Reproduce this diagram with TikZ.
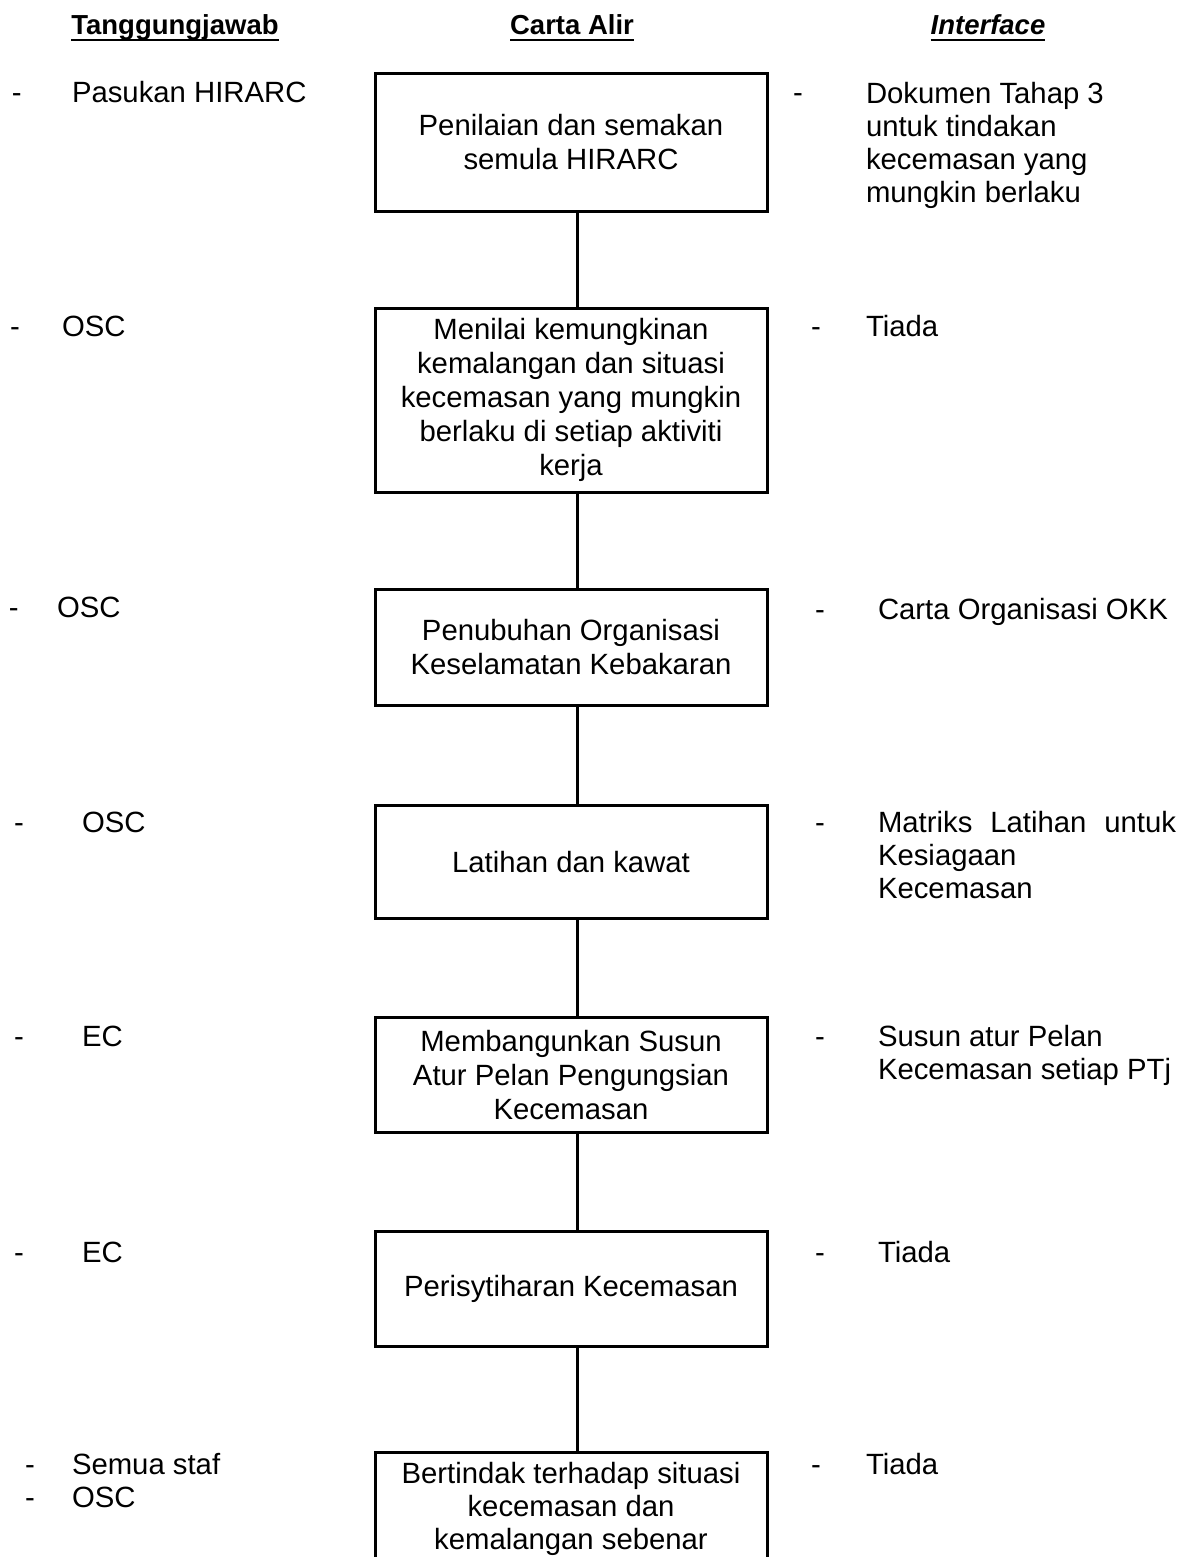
\documentclass[tikz,border=0pt]{standalone}
\usepackage{fontspec}
\setmainfont{Liberation Sans}
\begin{document}
\begin{tikzpicture}[x=1pt,y=-1pt,
  every node/.style={inner sep=0pt, outer sep=0pt, font=\fontsize{29.3}{33}\selectfont},
  head/.style={font=\fontsize{27.5}{32}\selectfont\bfseries, anchor=base},
  txt/.style={anchor=base west},
  flowbox/.style={draw, line width=3pt, minimum width=392pt, align=center, font=\fontsize{29.3}{34}\selectfont},
  link/.style={line width=3pt},
  uline/.style={line width=2.5pt}]
\useasboundingbox (0,0) rectangle (1189,1557);

% headings
\node[head] (h1) at (175,35) {Tanggungjawab};
\node[head] (h2) at (572,35) {Carta Alir};
\node[head] (h3) at (988,35) {\itshape Interface};
\foreach \h in {h1,h2,h3}
  \draw[uline] ([yshift=-5pt]\h.base west) -- ([yshift=-5pt]\h.base east);

% flow boxes
\node[flowbox, minimum height=137pt] (b1) at (571,142.5) {Penilaian dan semakan\\semula HIRARC};
\node[flowbox, minimum height=184pt] (b2) at (571,400) {Menilai kemungkinan\\kemalangan dan situasi\\kecemasan yang mungkin\\berlaku di setiap aktiviti\\kerja};
\node[flowbox, minimum height=116pt] (b3) at (571,647) {Penubuhan Organisasi\\Keselamatan Kebakaran};
\node[flowbox, minimum height=113pt] (b4) at (571,862) {Latihan dan kawat};
\node[flowbox, minimum height=115pt] (b5) at (571,1075) {Membangunkan Susun\\Atur Pelan Pengungsian\\Kecemasan};
\node[flowbox, minimum height=115pt] (b6) at (571,1289) {Perisytiharan Kecemasan};
\draw[line width=3pt] (375,1580) -- (375,1452) -- (767,1452) -- (767,1580);
\node[align=center, font=\fontsize{29.3}{33}\selectfont] (b7) at (571,1509) {Bertindak terhadap situasi\\kecemasan dan\\kemalangan sebenar};
\coordinate (b7top) at (577,1452);

% connectors
\draw[link] (b1.south -| b7top) -- (b2.north -| b7top);
\draw[link] (b2.south -| b7top) -- (b3.north -| b7top);
\draw[link] (b3.south -| b7top) -- (b4.north -| b7top);
\draw[link] (b4.south -| b7top) -- (b5.north -| b7top);
\draw[link] (b5.south -| b7top) -- (b6.north -| b7top);
\draw[link] (b6.south -| b7top) -- (b7top);

% left column
\node[txt] (l1d) at (12,103) {-};  \node[txt] (l1) at (72,103) {Pasukan HIRARC};
\node[txt] (l2d) at (10,336) {-};  \node[txt] (l2) at (62,336) {OSC};
\node[txt] (l3d) at (9,617) {-};   \node[txt] (l3) at (57,617) {OSC};
\node[txt] (l4d) at (14,832) {-};  \node[txt] (l4) at (82,832) {OSC};
\node[txt] (l5d) at (14,1046) {-}; \node[txt] (l5) at (82,1046) {EC};
\node[txt] (l6d) at (14,1262) {-}; \node[txt] (l6) at (82,1262) {EC};
\node[txt] (l7d) at (25,1474) {-}; \node[txt] (l7) at (72,1474) {Semua staf};
\node[txt] (l8d) at (25,1507) {-}; \node[txt] (l8) at (72,1507) {OSC};

% right column
\node[txt] (r1d) at (793,103) {-};
\node[txt, align=left, anchor=north west] (r1) at (866,82) {Dokumen Tahap 3\\untuk tindakan\\kecemasan yang\\mungkin berlaku};
\node[txt] (r2d) at (811,336) {-};  \node[txt] (r2) at (866,336) {Tiada};
\node[txt] (r3d) at (815,619) {-};  \node[txt] (r3) at (878,619) {Carta Organisasi OKK};
\node[txt] (r4d) at (815,832) {-};
\node[txt] (r4a) at (878,832) {\hbox to 298pt{Matriks\hfil\ Latihan\hfil\ untuk}};
\node[txt] (r4b) at (878,865) {Kesiagaan};
\node[txt] (r4c) at (878,898) {Kecemasan};
\node[txt] (r5d) at (815,1046) {-};
\node[txt] (r5a) at (878,1046) {Susun atur Pelan};
\node[txt] (r5b) at (878,1079) {Kecemasan setiap PTj};
\node[txt] (r6d) at (815,1262) {-}; \node[txt] (r6) at (878,1262) {Tiada};
\node[txt] (r7d) at (811,1474) {-}; \node[txt] (r7) at (866,1474) {Tiada};
\end{tikzpicture}
\end{document}
